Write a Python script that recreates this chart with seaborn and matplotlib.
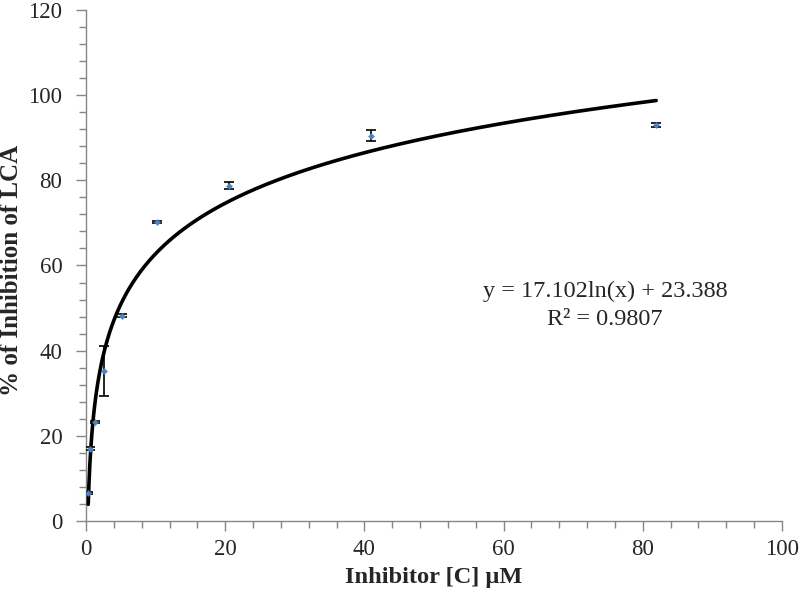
import numpy as np
import pandas as pd
import seaborn as sns
import matplotlib.pyplot as plt
from matplotlib.ticker import MultipleLocator

# concentration of inhibitor (uM) and % inhibition
conc = [0.32, 0.64, 1.28, 2.56, 5.12, 10.24, 20.48, 40.96, 81.92]
inhibition = [6.6, 17.0, 23.2, 35.2, 48.2, 70.2, 78.7, 90.5, 93.0]
err = [0.3, 0.3, 0.3, 5.8, 0.3, 0.3, 0.8, 1.2, 0.5]

# logarithmic trendline given on the chart
slope = 17.102
intercept = 23.388
r2 = 0.9807

sns.set_style('white')
plt.rcParams['font.family'] = ['Liberation Serif', 'DejaVu Serif']

df = pd.DataFrame({'conc': conc, 'inh': inhibition, 'err': err})

fit_x = np.geomspace(min(conc), max(conc), 300)
fit = pd.DataFrame({'x': fit_x, 'y': slope * np.log(fit_x) + intercept})

fig = plt.figure(figsize=(8, 5.98), dpi=100)
ax = fig.add_axes([0.1075, 0.1288, 0.87, 0.8545])

sns.lineplot(data=fit, x='x', y='y', color='black', linewidth=2.6, ax=ax, zorder=3)
ax.errorbar(df['conc'], df['inh'], yerr=df['err'], fmt='none', ecolor='black',
            elinewidth=1.2, capsize=3.5, capthick=1.2, zorder=4)
sns.scatterplot(data=df, x='conc', y='inh', marker='D', s=10, color='#4F81BD',
                edgecolor='#4F81BD', ax=ax, zorder=5)

ax.set_xlim(0, 100)
ax.set_ylim(0, 120)
ax.xaxis.set_major_locator(MultipleLocator(20))
ax.xaxis.set_minor_locator(MultipleLocator(4))
ax.yaxis.set_major_locator(MultipleLocator(20))
ax.yaxis.set_minor_locator(MultipleLocator(4))

for s in ['top', 'right']:
    ax.spines[s].set_visible(False)
for s in ['left', 'bottom']:
    ax.spines[s].set_color('#868686')
    ax.spines[s].set_linewidth(1)

ax.tick_params(which='both', direction='out', color='#868686', width=1,
               left=True, bottom=True)
ax.tick_params(which='major', length=7, labelsize=16.5)
ax.tick_params(axis='x', which='major', pad=6)
ax.tick_params(axis='y', which='major', pad=10)
ax.tick_params(which='minor', length=5)

ax.set_xlabel('Inhibitor [C] µM', fontsize=17.6, fontweight='bold', labelpad=5)
ax.set_ylabel('% of Inhibition of LCA', fontsize=18, fontweight='bold')
ax.yaxis.set_label_coords(-0.091, 0.49)

ax.text(74.6, 52.6, f'y = {slope}ln(x) + {intercept}', ha='center', va='baseline', fontsize=17.5)
ax.text(74.6, 46.0, f'R² = {r2}', ha='center', va='baseline', fontsize=17.5)

fig.savefig('out.png', dpi=100)
